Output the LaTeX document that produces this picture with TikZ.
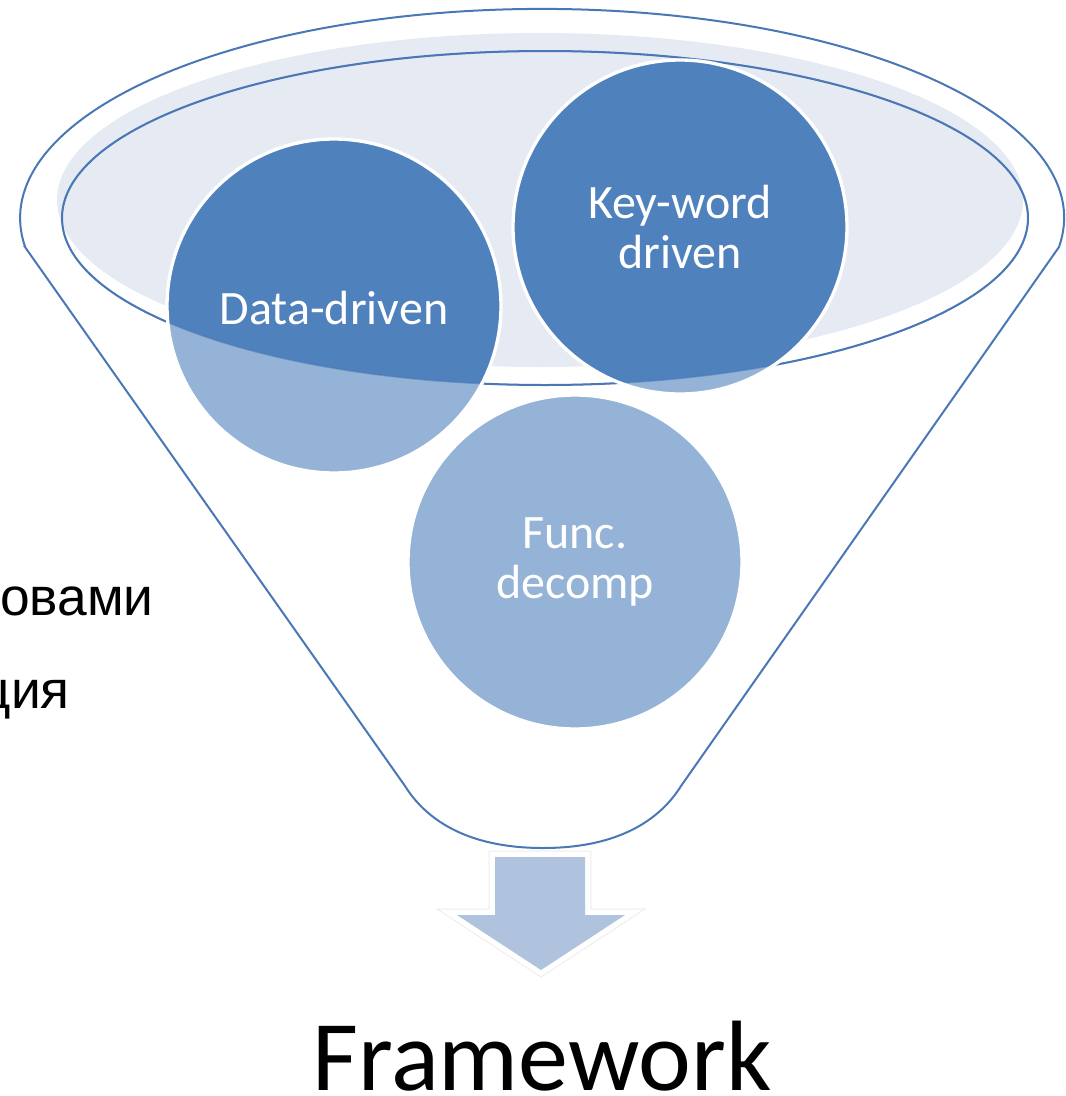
\documentclass[tikz,border=0pt]{standalone}
\usepackage{fontspec}
\newfontfamily\calib{Carlito}
\newfontfamily\arialf{Liberation Sans}
\definecolor{dark}{RGB}{79,129,189}
\definecolor{light}{RGB}{149,179,215}
\definecolor{rimfill}{RGB}{229,234,243}
\definecolor{edge}{RGB}{74,120,182}
\definecolor{arrowfill}{RGB}{175,194,222}
\tikzset{
  funnelline/.style={draw=edge, line width=1.5pt},
  bubble/.style={fill=light},
  bubbleborder/.style={draw=white, line width=2.5pt},
  bubbletext/.style={text=white, align=center, font=\calib\fontsize{36}{38}\selectfont, inner sep=0pt},
  sidetext/.style={text=black, font=\arialf\fontsize{40}{44}\selectfont, inner sep=0pt},
}
\begin{document}
\begin{tikzpicture}[x=0.75pt,y=0.75pt]
\useasboundingbox (0,0) rectangle (1065,-1096);
\fill[white] (0,0) rectangle (1065,-1096);

% funnel body
\path[funnelline, fill=white] (25,-247) -- (405,-786)
  .. controls (425,-818) and (465,-848) .. (543,-848)
  .. controls (621,-848) and (661,-818) .. (681,-786)
  -- (1059,-247)
  arc[start angle=-8, end angle=188, x radius=522, y radius=209] -- cycle;

% light rim fill
\fill[rimfill] (540,-200) ellipse [x radius=483, y radius=167];
\draw[funnelline] (545,-218) ellipse [x radius=483, y radius=167];

% circles (light)
\fill[bubble] (334,-306) circle[radius=167];
\fill[bubble] (680,-227) circle[radius=167];
\fill[bubble] (575,-562) circle[radius=167];

% dark part inside the mouth
\begin{scope}
\clip (545,-218) ellipse [x radius=483, y radius=167];
\fill[dark] (334,-306) circle[radius=167];
\fill[dark] (680,-227) circle[radius=167];
\fill[dark] (575,-562) circle[radius=167];
\end{scope}

\draw[edge, line width=1.2pt, opacity=0.5] (545,-218) ellipse [x radius=483, y radius=167];

\draw[bubbleborder] (334,-306) circle[radius=167];
\draw[bubbleborder] (680,-227) circle[radius=167];
\draw[bubbleborder] (575,-562) circle[radius=167];

\node[bubbletext] (dd) at (334,-308) {Data-driven};
\node[bubbletext] (kw) at (680,-227) {Key-word\\driven};
\node[bubbletext] (fd) at (575,-562) {Func.\\decomp};

% arrow
\path[fill=arrowfill,
  preaction={draw=black!7, line width=9.5pt, line join=miter},
  preaction={draw=white, line width=8pt, line join=miter}]
  (495,-857) -- (585,-857) -- (585,-915) -- (625,-915) -- (541,-970)
  -- (457,-915) -- (495,-915) -- cycle;

\node[anchor=base, inner sep=0pt, text depth=0pt, font=\calib\fontsize{75}{80}\selectfont] (fw) at (542,-1090) {Framework};

\node[sidetext, anchor=base east] (t1) at (154,-615) {овами};
\node[sidetext, anchor=base east] (t2) at (70,-708) {ция};
\end{tikzpicture}
\end{document}
